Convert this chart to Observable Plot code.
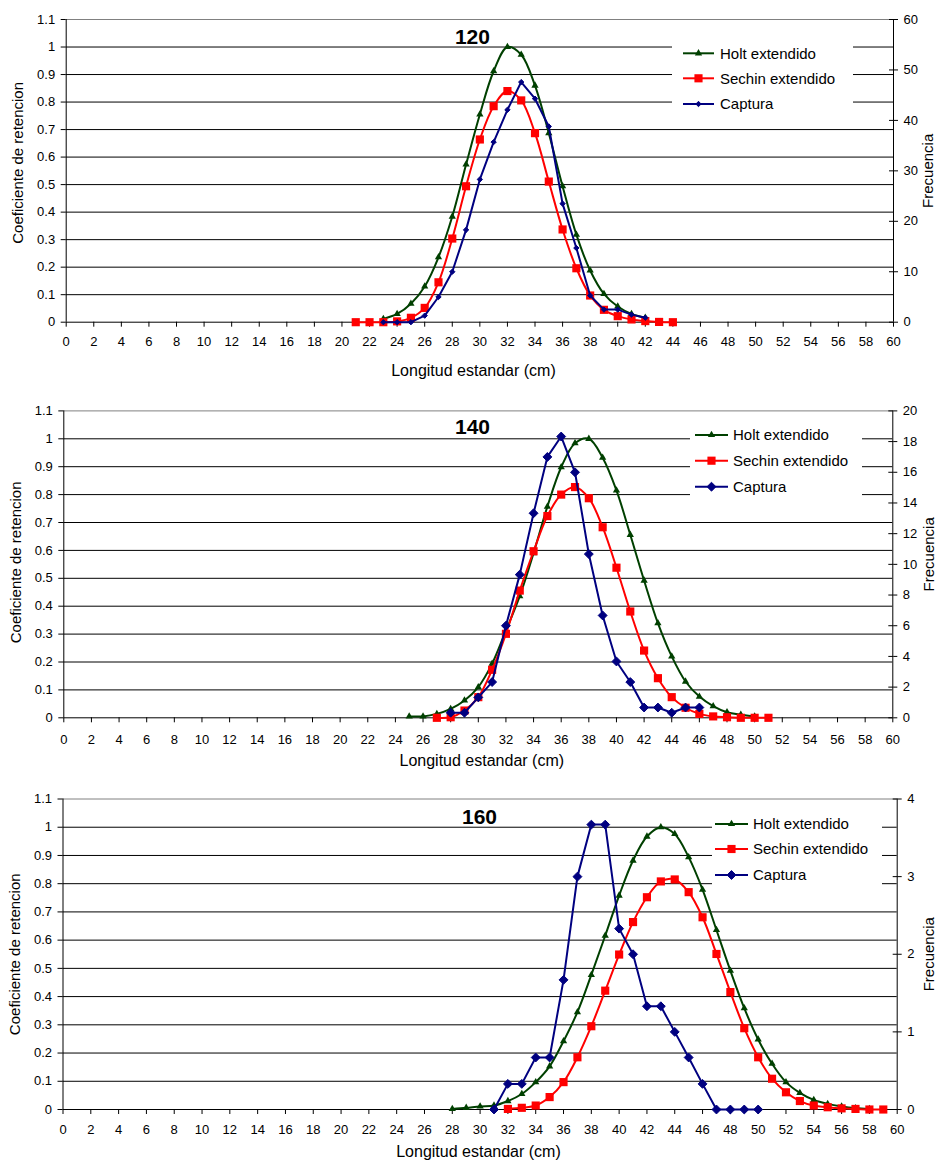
<!DOCTYPE html>
<html>
<head>
<meta charset="utf-8">
<script src="https://cdn.jsdelivr.net/npm/d3@7"></script>
<script src="https://cdn.jsdelivr.net/npm/@observablehq/plot@0.6"></script>
<style>
  html, body { margin: 0; padding: 0; background: #fff; }
  #chart svg { display: block; }
</style>
</head>
<body>
<div id="chart"></div>
<script>
// ---------- shared ticks & labels ----------
const xTicks = [0,2,4,6,8,10,12,14,16,18,20,22,24,26,28,30,32,34,36,38,40,42,44,46,48,50,52,54,56,58,60];
const yTicks = [0,0.1,0.2,0.3,0.4,0.5,0.6,0.7,0.8,0.9,1,1.1];
const seriesNames = ["Holt extendido", "Sechin extendido", "Captura"];
const seriesColors = ["#004000", "#ff0000", "#000080"];
const xLabel = "Longitud estandar (cm)";
const yLabel = "Coeficiente de retencion";
const y2Label = "Frecuencia";

// ---------- panel 120 ----------
const holt120Len = [23,24,25,26,27,28,29,30,31,32,33,34,35,36,37,38,39,40,41,42];
const holt120 = [0.012,0.03,0.067,0.13,0.236,0.384,0.573,0.755,0.912,1.0,0.972,0.86,0.687,0.494,0.318,0.188,0.103,0.057,0.03,0.016];
const sechin120Len = [21,22,23,24,25,26,27,28,29,30,31,32,33,34,35,36,37,38,39,40,41,42,43,44];
const sechin120 = [0,0,0,0.003,0.016,0.052,0.145,0.304,0.494,0.664,0.785,0.84,0.806,0.687,0.511,0.337,0.196,0.097,0.045,0.022,0.01,0.004,0.001,0];
const captura120Len = [23,24,25,26,27,28,29,30,31,32,33,34,35,36,37,38,39,40,41,42];
const captura120 = [0,0,0,1.3,5,10,18.3,28.3,35.7,42.1,47.6,44.3,38.8,23.5,14.7,5.3,2.5,2.5,1.5,0.9];
const freq120Ticks = [0,10,20,30,40,50,60];

// ---------- panel 140 ----------
const holt140Len = [25,26,27,28,29,30,31,32,33,34,35,36,37,38,39,40,41,42,43,44,45,46,47,48,49,50];
const holt140 = [0.005,0.005,0.014,0.032,0.062,0.11,0.194,0.313,0.436,0.59,0.757,0.898,0.984,1.0,0.932,0.815,0.656,0.492,0.339,0.22,0.13,0.076,0.042,0.02,0.011,0.005];
const sechin140Len = [27,28,29,30,31,32,33,34,35,36,37,38,39,40,41,42,43,44,45,46,47,48,49,50,51];
const sechin140 = [0,0.002,0.026,0.074,0.172,0.301,0.456,0.597,0.723,0.8,0.827,0.787,0.683,0.538,0.381,0.241,0.142,0.074,0.036,0.014,0.005,0.002,0,0,0];
const captura140Len = [28,29,30,31,32,33,34,35,36,37,38,39,40,41,42,43,44,45,46];
const captura140 = [0.33,0.33,1.33,2.33,6,9.33,13.33,17,18.33,16,10.67,6.67,3.67,2.33,0.67,0.67,0.33,0.67,0.67];
const freq140Ticks = [0,2,4,6,8,10,12,14,16,18,20];

// ---------- panel 160 ----------
const holt160Len = [28,29,30,31,32,33,34,35,36,37,38,39,40,41,42,43,44,45,46,47,48,49,50,51,52,53,54,55,56,57,58];
const holt160 = [0.002,0.006,0.011,0.014,0.03,0.055,0.097,0.153,0.242,0.345,0.477,0.616,0.758,0.882,0.967,1.0,0.976,0.894,0.779,0.636,0.492,0.359,0.248,0.162,0.097,0.059,0.034,0.02,0.011,0.005,0.002];
const sechin160Len = [32,33,34,35,36,37,38,39,40,41,42,43,44,45,46,47,48,49,50,51,52,53,54,55,56,57,58,59];
const sechin160 = [0.002,0.006,0.014,0.044,0.097,0.185,0.295,0.421,0.549,0.664,0.752,0.808,0.815,0.77,0.681,0.551,0.416,0.288,0.185,0.109,0.061,0.03,0.014,0.008,0.004,0.002,0,0];
const captura160Len = [31,32,33,34,35,36,37,38,39,40,41,42,43,44,45,46,47,48,49,50];
const captura160 = [0,0.33,0.33,0.67,0.67,1.67,3,3.67,3.67,2.33,2,1.33,1.33,1,0.67,0.33,0,0,0,0];
const freq160Ticks = [0,1,2,3,4];

const toRows = (xs, vs) => xs.map((x, i) => ({x, v: vs[i]}));

const panels = [
  {title: "120", holt: toRows(holt120Len, holt120), sechin: toRows(sechin120Len, sechin120),
   captura: toRows(captura120Len, captura120), freqTicks: freq120Ticks, diamondR: 2.4,
   height: 390, mt: 19, mb: 68.3, ml: 65.7, mr: 42, titleDx: -7.4, titleDy: 17.7, xPad: 10,
   xLabelDx: 325, xLabelDy: 48.3, yDy: -8, y2Dx: 35, y2Dy: 0,
   legend: {box: [672, 36, 853, 117], lineX: [683, 714], textX: 720, rows: [53.3, 78.3, 104]}},
  {title: "140", holt: toRows(holt140Len, holt140), sechin: toRows(sechin140Len, sechin140),
   captura: toRows(captura140Len, captura140), freqTicks: freq140Ticks, diamondR: 4,
   height: 390, mt: 20.4, mb: 62.7, ml: 63.3, mr: 42.7, titleDx: -5.8, titleDy: 16.3, xPad: 12,
   xLabelDx: 335.7, xLabelDy: 42.7, yDy: -2, y2Dx: 36.5, y2Dy: -10,
   legend: {box: [690, 31, 862, 110], lineX: [695, 728], textX: 733, rows: [45, 70.7, 96.7]}},
  {title: "160", holt: toRows(holt160Len, holt160), sechin: toRows(sechin160Len, sechin160),
   captura: toRows(captura160Len, captura160), freqTicks: freq160Ticks, diamondR: 4,
   height: 380, mt: 18.5, mb: 51, ml: 62.5, mr: 38.3, titleDx: -0.6, titleDy: 18.2, xPad: 10,
   xLabelDx: 333.2, xLabelDy: 42, yDy: 0, y2Dx: 32, y2Dy: 0,
   legend: {box: [712, 30, 882, 112], lineX: [715, 748], textX: 753, rows: [44, 69, 95]}}
];

const FONT = "Arial, 'Liberation Sans', sans-serif";
const container = document.getElementById("chart");

for (const p of panels) {
  const fmax = p.freqTicks[p.freqTicks.length - 1];
  const k = 1.1 / fmax;
  const symbols = ["triangle", "square", "diamond2"];
  const radii = [2.7, 4.6, p.diamondR];
  const freqScaled = p.freqTicks.map(f => f * k);

  const chart = Plot.plot({
    width: 935,
    height: p.height,
    marginTop: p.mt, marginBottom: p.mb, marginLeft: p.ml, marginRight: p.mr,
    x: {domain: [0, 60]},
    y: {domain: [0, 1.1]},
    style: {fontFamily: FONT, fontSize: "13px", color: "#000", background: "#fff", overflow: "visible"},
    marks: [
      // gridlines
      Plot.ruleY(yTicks.filter(d => d > 0 && d < 1.1), {stroke: "#000", strokeWidth: 1}),
      Plot.ruleY([1.1], {stroke: "#808080", strokeWidth: 1}),
      // axis lines
      Plot.ruleX([0, 60], {stroke: "#000", strokeWidth: 1}),
      Plot.ruleY([0], {stroke: "#000", strokeWidth: 1}),
      // axes
      Plot.axisX(xTicks, {anchor: "bottom", tickSize: 5, tickPadding: p.xPad, label: null, fontSize: 13}),
      Plot.axisY(yTicks, {anchor: "left", tickSize: 5, tickPadding: 6, label: null, fontSize: 13,
        tickFormat: d => String(+d.toFixed(1))}),
      Plot.axisY(freqScaled, {anchor: "right", tickSize: 4, tickPadding: 6, label: null, fontSize: 13,
        tickFormat: d => String(Math.round(d / k))}),
      Plot.axisY(freqScaled, {anchor: "right", tickSize: -5, label: null, tickFormat: () => ""}),
      // series
      Plot.line(p.holt, {x: "x", y: "v", stroke: seriesColors[0], strokeWidth: 2, curve: "catmull-rom"}),
      Plot.dot(p.holt, {x: "x", y: "v", symbol: symbols[0], r: radii[0], fill: seriesColors[0]}),
      Plot.line(p.sechin, {x: "x", y: "v", stroke: seriesColors[1], strokeWidth: 2, curve: "catmull-rom"}),
      Plot.dot(p.sechin, {x: "x", y: "v", symbol: symbols[1], r: radii[1], fill: seriesColors[1]}),
      Plot.line(p.captura, {x: "x", y: d => d.v * k, stroke: seriesColors[2], strokeWidth: 2}),
      Plot.dot(p.captura, {x: "x", y: d => d.v * k, symbol: symbols[2], r: radii[2], fill: seriesColors[2], stroke: seriesColors[2], strokeWidth: 1}),
      // texts
      Plot.text([p.title], {text: d => d, frameAnchor: "top", dx: p.titleDx, dy: p.titleDy, lineAnchor: "middle",
        fontSize: 21, fontWeight: "bold"}),
      Plot.text([xLabel], {text: d => d, frameAnchor: "bottom-left", textAnchor: "start", dx: p.xLabelDx, dy: p.xLabelDy,
        lineAnchor: "middle", fontSize: 16}),
      Plot.text([yLabel], {text: d => d, frameAnchor: "left", textAnchor: "middle", rotate: -90, dx: -48, dy: p.yDy,
        lineAnchor: "middle", fontSize: 15}),
      Plot.text([y2Label], {text: d => d, frameAnchor: "right", textAnchor: "middle", rotate: -90, dx: p.y2Dx, dy: p.y2Dy,
        lineAnchor: "middle", fontSize: 15})
    ]
  });

  // legend (drawn inside the plot area, as in the original)
  const L = p.legend;
  const g = d3.select(chart).append("g").attr("font-family", FONT).attr("font-size", 15).attr("text-anchor", "start");
  g.append("rect").attr("x", L.box[0]).attr("y", L.box[1])
    .attr("width", L.box[2] - L.box[0]).attr("height", L.box[3] - L.box[1]).attr("fill", "#fff");
  const d3sym = [d3.symbolTriangle, d3.symbolSquare, d3.symbolDiamond2];
  seriesNames.forEach((name, i) => {
    const y = L.rows[i];
    g.append("line").attr("x1", L.lineX[0]).attr("x2", L.lineX[1]).attr("y1", y).attr("y2", y)
      .attr("stroke", seriesColors[i]).attr("stroke-width", 2);
    const r = radii[i];
    g.append("path").attr("d", d3.symbol(d3sym[i], r * r * Math.PI)())
      .attr("transform", `translate(${(L.lineX[0] + L.lineX[1]) / 2},${y})`)
      .attr("fill", seriesColors[i]).attr("stroke", i === 2 ? seriesColors[i] : "none");
    g.append("text").attr("x", L.textX).attr("y", y).attr("dy", "0.35em").attr("fill", "#000")
      .attr("text-anchor", "start").text(name);
  });

  container.appendChild(chart);
}
</script>
</body>
</html>
